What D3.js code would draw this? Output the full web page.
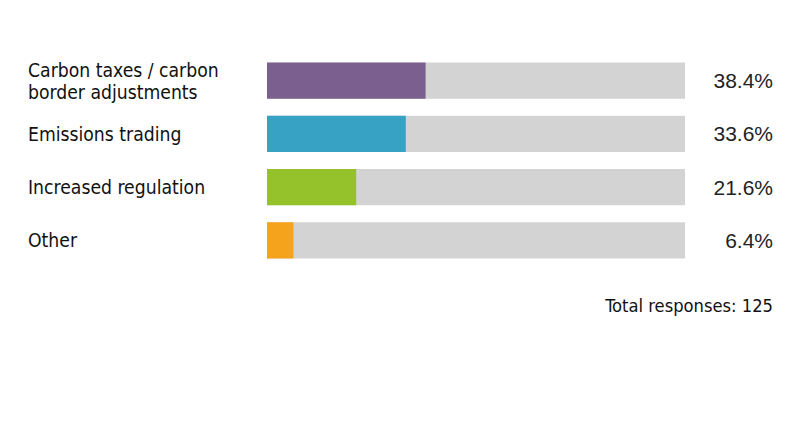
<!DOCTYPE html>
<html><head><meta charset="utf-8">
<script src="https://cdn.jsdelivr.net/npm/d3@7"></script>
<style>body{margin:0;background:#fff}</style>
</head><body>
<svg id="c" width="800" height="427"></svg>
<script>
const categories = [["Carbon taxes / carbon","border adjustments"],["Emissions trading"],["Increased regulation"],["Other"]];
const values = [38.4, 33.6, 21.6, 6.4];
const colors = ["#7b5f8f", "#37a2c4", "#95c12b", "#f5a31c"];
const footnote = "Total responses: 125";

const svg = d3.select("#c");
const x = d3.scaleLinear().domain([0, 100]).range([267, 680]);
const y = d3.scaleBand().domain(d3.range(values.length)).range([54, 267]).paddingInner(0.32).paddingOuter(0.16);
const trackW = 418;
const labelFont = "'Liberation Sans Narrow','DejaVu Sans Condensed',sans-serif";

const g = svg.selectAll("g.row").data(values).join("g").attr("class","row");
g.append("rect").attr("x", x(0)).attr("y",(d,i)=>y(i)).attr("width",trackW).attr("height",y.bandwidth()).attr("fill","#d3d3d3");
g.append("rect").attr("x", x(0)).attr("y",(d,i)=>y(i)).attr("width",d=>x(d)-x(0)).attr("height",y.bandwidth()).attr("fill",(d,i)=>colors[i]);
g.append("text").attr("x",773).attr("y",(d,i)=>y(i)+y.bandwidth()/2+7.5).attr("text-anchor","end")
  .attr("font-family","'Liberation Sans',Arial,sans-serif").attr("font-size",21).attr("fill","#222")
  .text(d=>d.toFixed(1)+"%");
const t = g.append("text").attr("font-family",labelFont).attr("font-size",19.2).attr("fill","#111");
t.each(function(d,i){
  const lines = categories[i];
  const cy = y(i)+y.bandwidth()/2;
  const base = cy + 7 - (lines.length-1)*11;
  d3.select(this).selectAll("tspan").data(lines).join("tspan").attr("x",28).attr("y",(l,j)=>base+j*22).text(l=>l);
});
svg.append("text").attr("x",773).attr("y",312).attr("text-anchor","end").attr("font-family",labelFont).attr("font-size",18.2).attr("fill","#111").text(footnote);
</script>
</body></html>
